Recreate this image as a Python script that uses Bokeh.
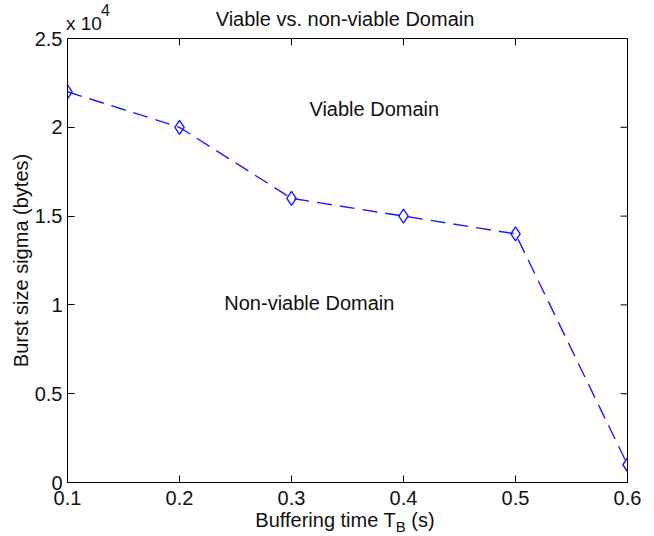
import math
from bokeh.plotting import figure
from bokeh.models import Range1d, LinearAxis, Label, FixedTicker, Div
from bokeh.layouts import column
from bokeh.embed import file_html
from bokeh.resources import INLINE

# data
buffering_time = [0.1, 0.2, 0.3, 0.4, 0.5, 0.6]
burst_size = [22000, 20000, 16000, 15000, 14000, 1000]
x_ticks = [0.1, 0.2, 0.3, 0.4, 0.5, 0.6]
y_ticks = [0, 5000, 10000, 15000, 20000, 25000]
y_tick_labels = ["0", "0.5", "1", "1.5", "2", "2.5"]
x_min, x_max = 0.1, 0.6
y_min, y_max = 0, 25000

FONT = "Liberation Sans"
FS = "20px"
TXT = "#111111"
BLUE = "#1a1aff"
W = 650

p = figure(width=W, height=485, output_backend="svg", toolbar_location=None, title=None,
           x_range=Range1d(x_min, x_max), y_range=Range1d(y_min, y_max),
           min_border_left=67, min_border_right=23, min_border_top=10, min_border_bottom=31,
           x_axis_location=None, y_axis_location=None)
p.grid.visible = False
p.outline_line_color = "black"
p.outline_line_width = 1
p.background_fill_color = "white"
p.border_fill_color = None


def mk_axis():
    ax = LinearAxis()
    ax.major_tick_in = 7
    ax.major_tick_out = 0
    ax.minor_tick_in = 0
    ax.minor_tick_out = 0
    ax.axis_line_color = "black"
    ax.major_tick_line_color = "black"
    ax.major_label_text_font = FONT
    ax.major_label_text_font_size = FS
    ax.major_label_text_color = TXT
    return ax

xb = mk_axis()
xb.ticker = FixedTicker(ticks=x_ticks)
xb.major_label_standoff = 8
p.add_layout(xb, "below")
yl = mk_axis()
yl.ticker = FixedTicker(ticks=y_ticks)
yl.major_label_overrides = {t: s for t, s in zip(y_ticks, y_tick_labels)}
yl.major_label_standoff = 5
yl.axis_label = "Burst size sigma (bytes)"
yl.axis_label_text_font = FONT
yl.axis_label_text_font_size = FS
yl.axis_label_text_font_style = "normal"
yl.axis_label_text_color = TXT
yl.axis_label_standoff = 0
p.add_layout(yl, "left")

# inward ticks on the top and right edges of the box (outer half is clipped by the frame)
p.scatter(x_ticks, [y_max] * len(x_ticks), marker="dash", size=14, angle=math.pi / 2,
          line_color="black", line_width=1)
p.scatter([x_max] * len(y_ticks), y_ticks, marker="dash", size=14,
          line_color="black", line_width=1)

p.line(buffering_time, burst_size, line_color=BLUE, line_width=1.4, line_dash="15 8")
p.scatter(buffering_time, burst_size, marker="diamond", size=14, fill_color=None,
          line_color=BLUE, line_width=1.4)

for x, y, t in [(0.316, 21050, "Viable Domain"), (0.240, 10130, "Non-viable Domain")]:
    p.add_layout(Label(x=x, y=y, text=t, text_font=FONT, text_font_size=FS,
                       text_align="left", text_baseline="middle", text_color=TXT))

base = f"position:relative;width:{W}px;font-family:'{FONT}';color:{TXT};white-space:nowrap;"
top_html = (
    f'<div style="{base}height:28px;">'
    f'<span style="position:absolute;left:345px;top:9px;transform:translateX(-50%);font-size:20px;line-height:20px;">'
    f'Viable vs. non-viable Domain</span>'
    f'<span style="position:absolute;left:66px;top:14px;font-size:19px;line-height:20px;">x 10</span>'
    f'<span style="position:absolute;left:101px;top:3px;font-size:16px;line-height:16px;">4</span>'
    f'</div>'
)
bottom_html = (
    f'<div style="{base}height:23px;">'
    f'<span style="position:absolute;left:345px;top:-3px;transform:translateX(-50%);font-size:20px;line-height:20px;">'
    f'Buffering time T<span style="font-size:15px;position:relative;top:5px;">B</span> (s)</span>'
    f'</div>'
)
top_div = Div(text=top_html, width=W, height=28, margin=0)
bottom_div = Div(text=bottom_html, width=W, height=23, margin=0)

layout = column(top_div, p, bottom_div, spacing=0)
open("out.html", "w").write(file_html(layout, INLINE))
